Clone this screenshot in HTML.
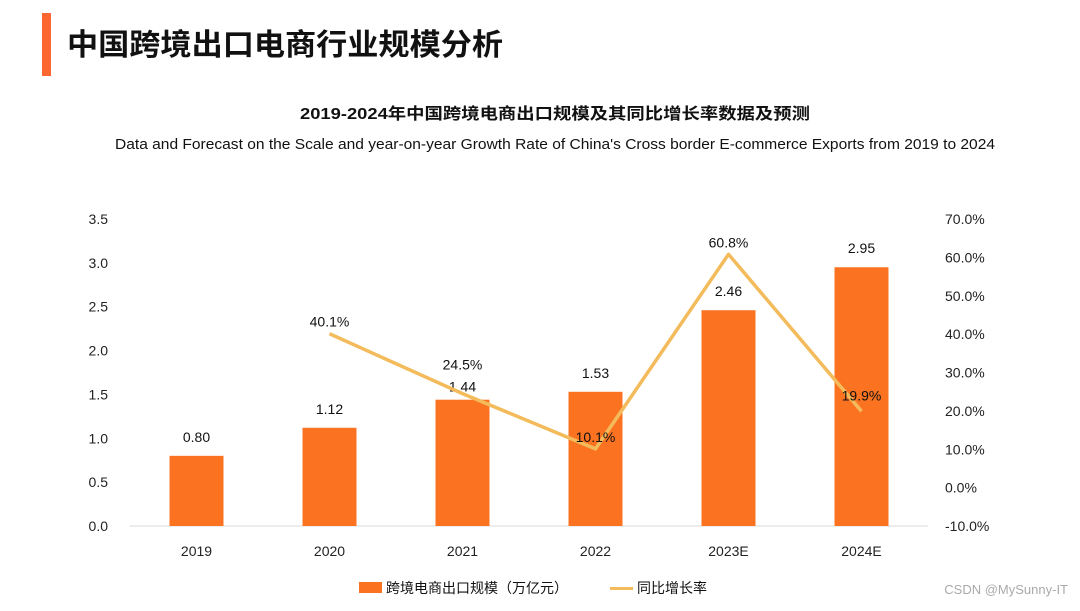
<!DOCTYPE html>
<html><head><meta charset="utf-8"><style>
body{margin:0;background:#fff;width:1080px;height:606px;overflow:hidden;font-family:"Liberation Sans","Noto Sans CJK SC",sans-serif}
</style></head><body>
<svg width="1080" height="606" xmlns="http://www.w3.org/2000/svg" font-family="'Liberation Sans','Noto Sans CJK SC',sans-serif">
<rect x="42" y="13" width="9" height="63" fill="#fb6631"/>
<text x="67" y="55" font-size="30" font-weight="bold" textLength="436" lengthAdjust="spacingAndGlyphs" fill="#111">中国跨境出口电商行业规模分析</text>
<text x="300" y="119" font-size="16" font-weight="bold" textLength="510" lengthAdjust="spacingAndGlyphs" fill="#111">2019-2024年中国跨境电商出口规模及其同比增长率数据及预测</text>
<text x="115" y="149" font-size="15" textLength="880" lengthAdjust="spacingAndGlyphs" fill="#111">Data and Forecast on the Scale and year-on-year Growth Rate of China's Cross border E-commerce Exports from 2019 to 2024</text>
<g id="chart"></g>
<rect x="359" y="582" width="23" height="11" fill="#fb7320"/>
<text x="386" y="593" font-size="14" fill="#111">跨境电商出口规模（万亿元）</text>
<rect x="610" y="587" width="23" height="3" fill="#f3bb5b"/>
<text x="637" y="593" font-size="14" fill="#111">同比增长率</text>
<text x="1068" y="594" font-size="13" text-anchor="end" fill="#aaa">CSDN @MySunny-IT</text>
</svg>
<script>
const categories=["2019","2020","2021","2022","2023E","2024E"];
const scaleValues=[0.80,1.12,1.44,1.53,2.46,2.95];
const growthValues=[null,40.1,24.5,10.1,60.8,19.9];
const leftTicks=[0,0.5,1.0,1.5,2.0,2.5,3.0,3.5];
const rightTicks=[-10,0,10,20,30,40,50,60,70];
const NS="http://www.w3.org/2000/svg";
const g=document.getElementById('chart');
const x0=130,x1=928,yb=526,yt=219;
const band=(x1-x0)/categories.length;
const xc=i=>x0+band*(i+0.5);
const yL=v=>yb-(v/3.5)*(yb-yt);
const yR=v=>yb-((v+10)/80)*(yb-yt);
function mk(tag,attrs,txt){const e=document.createElementNS(NS,tag);for(const k in attrs)e.setAttribute(k,attrs[k]);if(txt!==undefined)e.textContent=txt;g.appendChild(e);return e;}
const ax=mk('line',{x1:x0,x2:x1,y1:yb,y2:yb,stroke:'#d9d9d9','stroke-width':1});


leftTicks.forEach(t=>{const e=mk('text',{x:108,y:yL(t)+5,'font-size':14,'text-anchor':'end',fill:'#222'},t.toFixed(1));

});
rightTicks.forEach(t=>{const e=mk('text',{x:945,y:yR(t)+5,'font-size':14,fill:'#222'},t.toFixed(1)+'%');

});
categories.forEach((c,i)=>{const e=mk('text',{x:xc(i),y:556,'font-size':14,'text-anchor':'middle',fill:'#222'},c);

});
const bw=54;
scaleValues.forEach((v,i)=>{const r=mk('rect',{x:xc(i)-bw/2,y:yL(v),width:bw,height:yb-yL(v),fill:'#fb7320'});


const off=(i===2)?8:14;
const t=mk('text',{x:xc(i),y:yL(v)-off,'font-size':14,'text-anchor':'middle',fill:'#111'},v.toFixed(2));

});
const pts=[];growthValues.forEach((v,i)=>{if(v!==null)pts.push([xc(i),yR(v)]);});
const pl=mk('polyline',{points:pts.map(p=>p.join(',')).join(' '),fill:'none',stroke:'#f3bb5b','stroke-width':3.5,'stroke-linejoin':'round'});


growthValues.forEach((v,i)=>{if(v===null)return;const off=(i===2)?24:(i===5?11:7);
const t=mk('text',{x:xc(i),y:yR(v)-off,'font-size':14,'text-anchor':'middle',fill:'#111'},v.toFixed(1)+'%');

});
</script>
</body></html>
